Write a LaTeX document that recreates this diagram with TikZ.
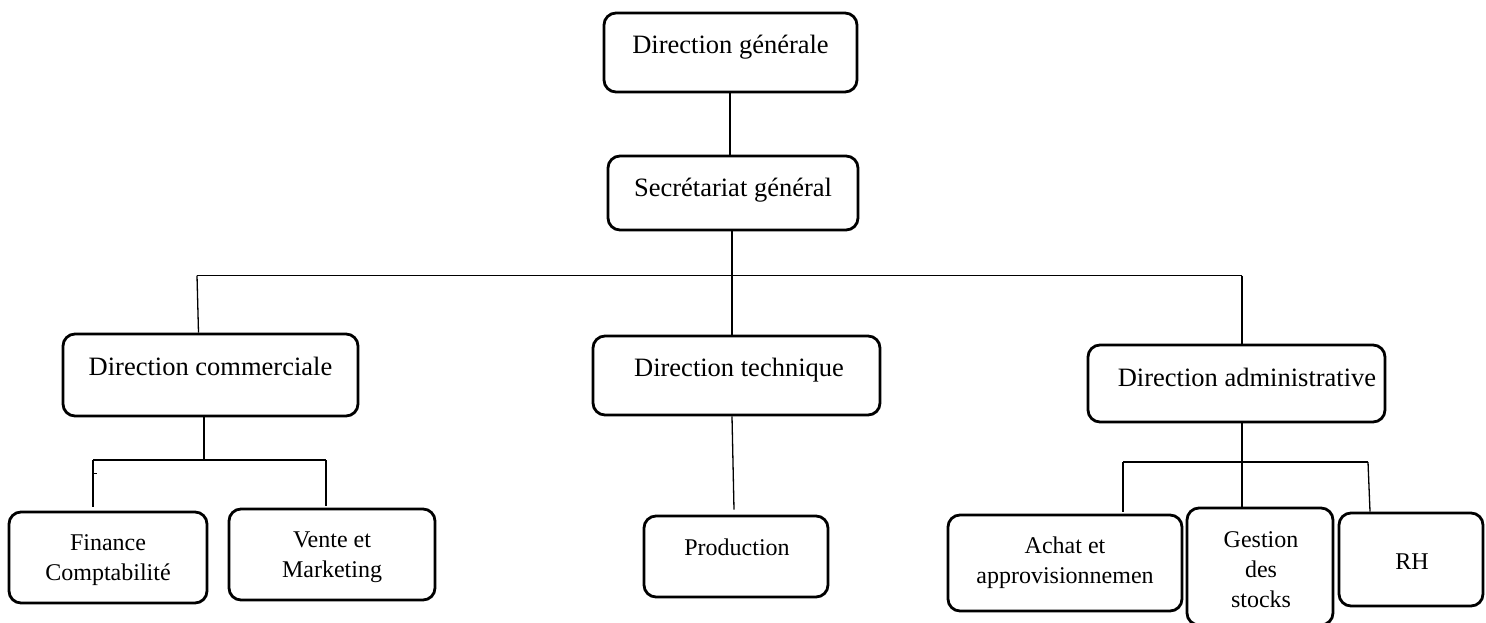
\documentclass[tikz,border=0pt]{standalone}
\usepackage{fontspec}
\setmainfont{Liberation Serif}
\begin{document}
\begin{tikzpicture}[x=1pt, y=-1pt,
  box/.style={draw, line width=2.8pt, rounded corners=12pt, inner sep=0pt},
  bigtxt/.style={font=\fontsize{26.5}{32}\selectfont, anchor=base, inner sep=0pt},
  smalltxt/.style={font=\fontsize{24}{30}\selectfont, anchor=base, inner sep=0pt},
  link/.style={line width=1.3pt},
  thinlink/.style={line width=0.8pt}]
\useasboundingbox (0,0) rectangle (1486,622);
\clip (0,0) rectangle (1486,622);

% boxes
\node[box, minimum width=253pt, minimum height=79pt] (dg) at (730.5,52.5) {};
\node[box, minimum width=250pt, minimum height=74pt] (sg) at (733,193) {};
\node[box, minimum width=295pt, minimum height=82pt] (dc) at (210.5,375) {};
\node[box, minimum width=287pt, minimum height=79pt] (dt) at (736.5,375.5) {};
\node[box, minimum width=297pt, minimum height=77pt] (da) at (1236.5,383.5) {};
\node[box, minimum width=198pt, minimum height=91pt] (fin) at (108,557.5) {};
\node[box, minimum width=206pt, minimum height=91pt] (ven) at (332,554.5) {};
\node[box, minimum width=184pt, minimum height=81pt] (prod) at (736,556.5) {};
\node[box, minimum width=234pt, minimum height=96pt] (ach) at (1065,563) {};
\node[box, minimum width=146pt, minimum height=117pt] (ges) at (1260,566.5) {};
\node[box, minimum width=144pt, minimum height=93pt] (rh) at (1411,559.5) {};

% labels
\node[bigtxt] (dgt) at (730.5,53) {Direction générale};
\node[bigtxt] (sgt) at (733,196) {Secrétariat général};
\node[bigtxt] (dct) at (210.5,375) {Direction commerciale};
\node[bigtxt] (dtt) at (739,376) {Direction technique};
\node[bigtxt] (dat) at (1247,386) {Direction administrative};
\node[smalltxt] (fint) at (108,550) {\begin{tabular}[t]{@{}c@{}}Finance\\Comptabilité\end{tabular}};
\node[smalltxt] (vent) at (332,547) {\begin{tabular}[t]{@{}c@{}}Vente et\\Marketing\end{tabular}};
\node[smalltxt] (prodt) at (737,555) {Production};
\node[smalltxt] (acht) at (1065,553) {\begin{tabular}[t]{@{}c@{}}Achat et\\approvisionnemen\end{tabular}};
\node[smalltxt] (gest) at (1261,547) {\begin{tabular}[t]{@{}c@{}}Gestion\\des\\stocks\end{tabular}};
\node[smalltxt] (rht) at (1412,569) {RH};

% junction points
\coordinate (busL) at (197,275.5);
\coordinate (busR) at (1242,275.5);
\coordinate (fk1L) at (93,460);
\coordinate (fk1M) at (204,460);
\coordinate (fk1R) at (326,460);
\coordinate (fk2L) at (1123,462);
\coordinate (fk2R) at (1368,462);
\coordinate (dtout) at (732,0);

% top level
\draw[link] (dg.south -| 730,0) -- (730,0 |- sg.north);
\draw[link] (sg.south -| dtout) -- (dtout |- busL);
\draw[link] (busL) -- (busR);
\draw[link] (busL) -- ([xshift=1.5pt]busL |- dc.north);
\draw[link] (dtout |- busL) -- (dtout |- dt.north);
\draw[link] (busR) -- (busR |- da.north);

% commercial branch
\draw[link] (fk1M |- dc.south) -- (fk1M);
\draw[link] (fk1L) -- (fk1R);
\draw[link] (fk1L) -- ([yshift=4pt]fk1L |- fin.north);
\draw[link] (fk1R) -- ([yshift=2pt]fk1R |- ven.north);
\draw[thinlink] (fk1L) ++(0,13) -- ++(4,0);

% technical branch
\draw[link] (dtout |- dt.south) -- ([xshift=2pt, yshift=5pt]dtout |- prod.north);

% administrative branch
\draw[link] (busR |- da.south) -- (busR |- ges.north);
\draw[link] (fk2L) -- (fk2R);
\draw[link] (fk2L) -- ([yshift=2pt]fk2L |- ach.north);
\draw[link] (fk2R) -- ([xshift=2pt]fk2R |- rh.north);
\end{tikzpicture}
\end{document}
